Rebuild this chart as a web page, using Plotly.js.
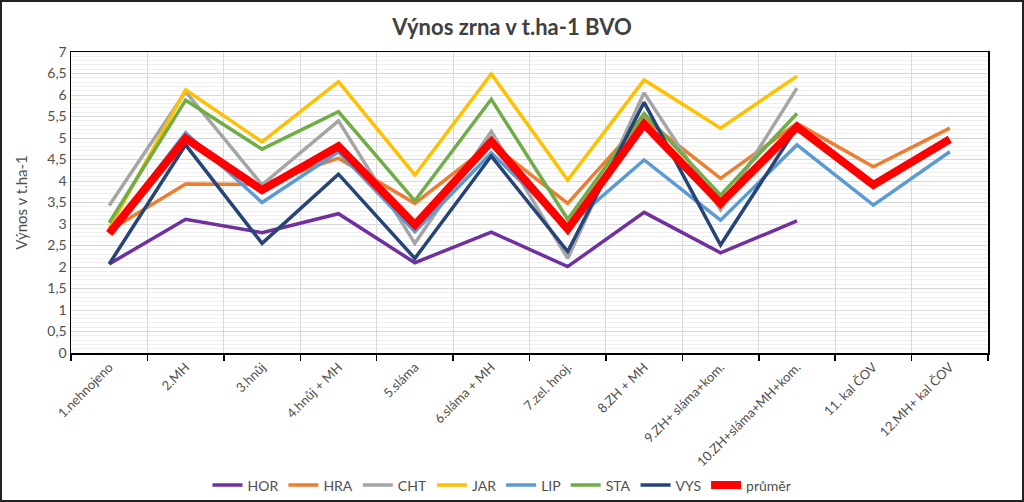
<!DOCTYPE html>
<html>
<head>
<meta charset="utf-8">
<script src="https://cdn.plot.ly/plotly-3.0.1.min.js"></script>
<style>
  html, body { margin: 0; padding: 0; background: #fff; }
  #wrap { position: relative; width: 1024px; height: 502px; }
  #chart { width: 1024px; height: 502px; }
  #frame { position: absolute; left: 0; top: 0; width: 1024px; height: 502px; box-sizing: border-box; border: 2px solid #222; pointer-events: none; }
</style>
</head>
<body>
<div id="wrap"><div id="chart"></div><div id="frame"></div></div>
<script>
const categories = ["1.nehnojeno", "2.MH", "3.hnůj", "4.hnůj + MH", "5.sláma", "6.sláma + MH", "7.zel. hnoj.", "8.ZH + MH", "9.ZH+ sláma+kom.", "10.ZH+sláma+MH+kom.", "11. kal ČOV", "12.MH+ kal ČOV"];
const HOR = [2.07, 3.11, 2.80, 3.24, 2.10, 2.81, 2.01, 3.27, 2.33, 3.07, null, null];
const HRA = [2.85, 3.93, 3.92, 4.53, 3.48, 4.86, 3.48, 5.45, 4.06, 5.34, 4.33, 5.23];
const CHT = [3.43, 6.08, 3.91, 5.40, 2.55, 5.15, 2.20, 6.05, 3.33, 6.16, null, null];
const JAR = [2.90, 6.12, 4.91, 6.31, 4.14, 6.49, 4.02, 6.35, 5.23, 6.44, null, null];
const LIP = [2.80, 5.12, 3.50, 4.68, 2.82, 4.65, 2.95, 4.49, 3.09, 4.84, 3.44, 4.68];
const STA = [3.03, 5.88, 4.74, 5.61, 3.54, 5.90, 3.11, 5.57, 3.67, 5.57, null, null];
const VYS = [2.07, 4.84, 2.55, 4.16, 2.20, 4.58, 2.36, 5.83, 2.51, 5.25, null, null];
const PRUMER = [2.78, 4.99, 3.79, 4.81, 2.98, 4.92, 2.88, 5.32, 3.48, 5.26, 3.91, 4.97];

const seriesNames = ["HOR", "HRA", "CHT", "JAR", "LIP", "STA", "VYS", "průměr"];
const seriesData = [HOR, HRA, CHT, JAR, LIP, STA, VYS, PRUMER];
const seriesColors = ["#7030A0", "#ED7D31", "#A5A5A5", "#FFC000", "#5B9BD5", "#70AD47", "#264478", "#FF0000"];
const seriesWidths = [3.5, 3.5, 3.5, 3.5, 3.5, 3.5, 3.5, 8];

const FONT = "Lato, 'Open Sans', sans-serif";
const GREY = "#505050";

const traces = seriesNames.map((n, i) => ({
  type: "scatter",
  mode: "lines",
  name: n,
  x: categories,
  y: seriesData[i],
  connectgaps: false,
  line: { color: seriesColors[i], width: seriesWidths[i], shape: "linear" },
  hoverinfo: "x+y+name"
}));

const layout = {
  width: 1024,
  height: 502,
  separators: ", ",
  paper_bgcolor: "#ffffff",
  plot_bgcolor: "#ffffff",
  margin: { l: 71, r: 36, t: 52, b: 149, autoexpand: false },
  font: { family: FONT, color: GREY, size: 13 },
  title: {
    text: "<b>Výnos zrna v t.ha-1 BVO</b>",
    font: { family: FONT, size: 22, color: "#404040" },
    x: 0.5, xanchor: "center",
    y: 1 - 27 / 502, yanchor: "middle"
  },
  xaxis: {
    type: "category",
    range: [-0.5, 11.5],
    tickson: "boundaries",
    ticks: "outside",
    ticklen: 6,
    tickcolor: "#000",
    tickwidth: 1.5,
    showgrid: true,
    gridcolor: "#d9d9d9",
    gridwidth: 1,
    showline: true,
    mirror: true,
    linecolor: "#000",
    linewidth: 1.5,
    tickangle: -45,
    tickfont: { family: FONT, size: 13, color: GREY },
    zeroline: false,
    automargin: false
  },
  yaxis: {
    range: [0, 7],
    dtick: 0.5,
    tick0: 0,
    ticks: "",
    showgrid: true,
    gridcolor: "#d9d9d9",
    gridwidth: 1,
    minor: { dtick: 0.1, showgrid: true, gridcolor: "#efefef", gridwidth: 1, ticks: "" },
    showline: true,
    mirror: true,
    linecolor: "#000",
    linewidth: 1.5,
    zeroline: false,
    tickfont: { family: FONT, size: 14, color: GREY },
    title: { text: "Výnos v t.ha-1", font: { family: FONT, size: 15, color: GREY }, standoff: 16 },
    automargin: false
  },
  showlegend: true,
  legend: {
    orientation: "h",
    x: 0.47, xanchor: "center",
    y: -0.44, yanchor: "middle",
    font: { family: FONT, size: 14, color: GREY },
    bgcolor: "rgba(0,0,0,0)",
    itemwidth: 30,
    tracegroupgap: 0
  }
};

Plotly.newPlot("chart", traces, layout, { displayModeBar: false, staticPlot: true });
</script>
</body>
</html>
